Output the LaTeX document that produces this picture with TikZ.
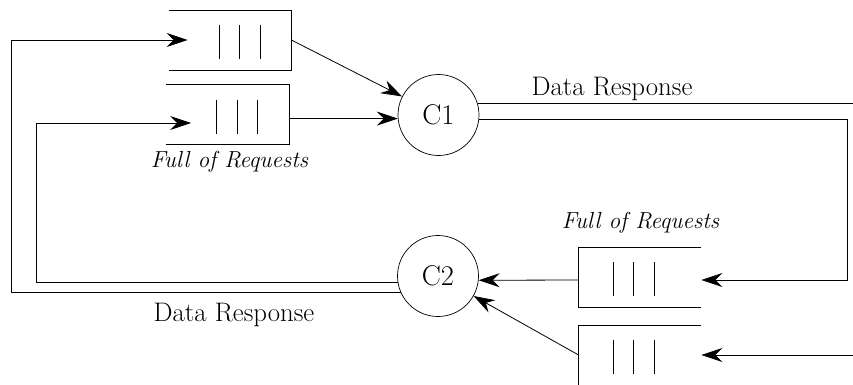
\documentclass[tikz,border=0pt]{standalone}
\usetikzlibrary{arrows.meta,calc}
\begin{document}
\begin{tikzpicture}[x=1pt,y=-1pt,
  line width=0.8pt,
  arr/.style={-{Stealth[length=21pt,width=14pt,inset=7pt]}},
  qslot/.style={minimum width=122pt,minimum height=59pt,inner sep=0pt,draw=none},
  proc/.style={circle,draw,line width=0.7pt,minimum size=81pt,inner sep=0pt,font=\fontsize{28.5}{34}\selectfont},
  lbl/.style={anchor=base,inner sep=0pt,font=\fontsize{26.8}{32}\selectfont},
  ilbl/.style={anchor=base,inner sep=0pt,font=\fontsize{23.2}{28}\selectfont\itshape}]
\useasboundingbox (0,0) rectangle (853,384);

% queues (nodes used as frames)
\node[qslot] (q1) at (230,40) {};
\node[qslot] (q2) at (227.5,114.5) {};
\node[qslot] (q3) at (640,277) {};
\node[qslot] (q4) at (640,355) {};

% left queues: closed on the right
\foreach \q in {q1,q2}{
  \draw (\q.north west) -- (\q.north east) -- (\q.south east) -- (\q.south west);
  \foreach \dx in {-11,9.5,30}{
    \draw ($(\q.center)+(\dx,-15)$) -- ($(\q.center)+(\dx,19)$);
  }
}
% right queues: closed on the left
\foreach \q in {q3,q4}{
  \draw (\q.north east) -- (\q.north west) -- (\q.south west) -- (\q.south east);
  \foreach \dx in {-27,-6.5,14}{
    \draw ($(\q.center)+(\dx,-15)$) -- ($(\q.center)+(\dx,18.5)$);
  }
}

% processes
\node[proc] (C1) at (438.5,115) {C1};
\node[proc] (C2) at (438,276) {C2};

% helper coordinates
\coordinate (o1) at (11,0);
\coordinate (o2) at (36,0);
\coordinate (o3) at (847,0);
\coordinate (e1) at (853,103);
\coordinate (e2) at (853,355);
\coordinate (t1) at ([xshift=19pt]q1.west);
\coordinate (t2) at ([xshift=25pt,yshift=-8.5pt]q2.west);
\coordinate (t3) at ([yshift=-3pt]q3.east);

% queues to C1
\draw[arr] (q1.east) -- (C1);
\draw[arr] ([yshift=-4pt]q2.east) -- (C1.185.7);

% C1 outputs
\draw (C1.17) -- (C1.17 -| e1);
\draw[arr] (C1.354) -- (C1.354 -| o3) -- (o3 |- t3) -- (t3);

% queues to C2
\draw[arr] ([yshift=-3pt]q3.west) -- (C2.354.4);
\draw[arr] (q4.west) -- (C2);
\draw[arr] (e2) -- (q4.east);

% C2 outputs back to left queues
\draw[arr] (C2.204.5) -- (C2.204.5 -| o1) -- (o1 |- t1) -- (t1);
\draw[arr] (C2.189.8) -- (C2.189.8 -| o2) -- (o2 |- t2) -- (t2);

% labels
\node[lbl] (dr1) at (612,95) {Data Response};
\node[lbl] (dr2) at (234,321) {Data Response};
\node[ilbl] (fr1) at (229.5,167) {Full of Requests};
\node[ilbl] (fr2) at (640.5,228) {Full of Requests};
\end{tikzpicture}
\end{document}
